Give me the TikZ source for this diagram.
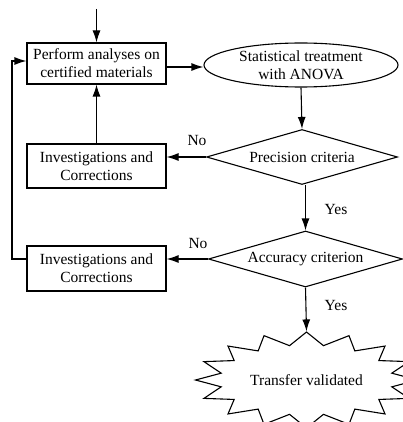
\documentclass[tikz,border=0pt]{standalone}
\usepackage{fontspec}
\setmainfont{Liberation Serif}
\usetikzlibrary{shapes.geometric,arrows.meta}

\begin{document}
\begin{tikzpicture}[x=1pt,y=-1pt,
	line width=1.1pt,
	font=\fontsize{15.5}{18}\selectfont,
	caja/.style={draw, align=center, minimum width=139pt, inner sep=0pt},
	rombo/.style={draw, diamond, aspect=3.5, inner sep=0pt},
	flecha/.style={-{Latex[length=12pt,width=8pt]}}]
	\useasboundingbox (0,0) rectangle (403,422);
	% Cajas
		\node[caja, minimum height=41pt] (analisis) at (96.5,63.5) {Perform analyses on\\certified materials};
		\node[caja, minimum height=44pt] (correc1) at (96.5,166) {Investigations and\\Corrections};
		\node[caja, minimum height=45pt] (correc2) at (96.5,268.5) {Investigations and\\Corrections};
	% Elipse y rombos
		\node[draw, ellipse, minimum width=194pt, minimum height=44pt, align=center, inner sep=0pt] (anova) at (301,65) {Statistical treatment\\with ANOVA};
		\node[rombo, minimum width=191pt, minimum height=55pt] (precision) at (302,157) {Precision criteria};
		\node[rombo, minimum width=194pt, minimum height=56pt] (exactitud) at (305.5,259) {Accuracy criterion};
	% Estrella
		\node[minimum width=222pt, minimum height=96pt, inner sep=0pt] (validado) at (306.5,380) {Transfer validated};
		\draw[line join=miter] ([shift={(90:111 and 48)}]validado.center)
			\foreach \k in {0,...,15} {
				-- ([shift={({101.25+22.5*\k}:87 and 35)}]validado.center)
				-- ([shift={({112.5+22.5*\k}:111 and 48)}]validado.center)
			} -- cycle;
	% Flechas
		\coordinate (entrada) at (96.5,9);
		\coordinate (retorno) at (12,61);
		\draw[flecha] (entrada) -- (analisis);
		\draw[flecha] ([yshift=-3.5pt]analisis.east) -- ([yshift=-3.5pt]analisis.east -| anova.west);
		\draw[flecha] (anova.south) -- (precision.north);
		\draw[flecha] (precision.west) -- (precision.west -| correc1.east);
		\draw[flecha] (correc1) -- (analisis);
		\draw[flecha] (precision.south -| exactitud.north) -- (exactitud.north);
		\draw[flecha] (exactitud.west) -- (exactitud.west -| correc2.east);
		\draw[flecha] (exactitud.south) -- (validado.north);
		\draw[flecha] (exactitud.west -| correc2.west) -- (retorno |- exactitud.west) -- (retorno) -- (retorno -| analisis.west);
	% Etiquetas
		\node (no1) at (197,141) {No};
		\node (no2) at (198,243) {No};
		\node (si1) at (336,209) {Yes};
		\node (si2) at (336,305) {Yes};
\end{tikzpicture}
\end{document}
